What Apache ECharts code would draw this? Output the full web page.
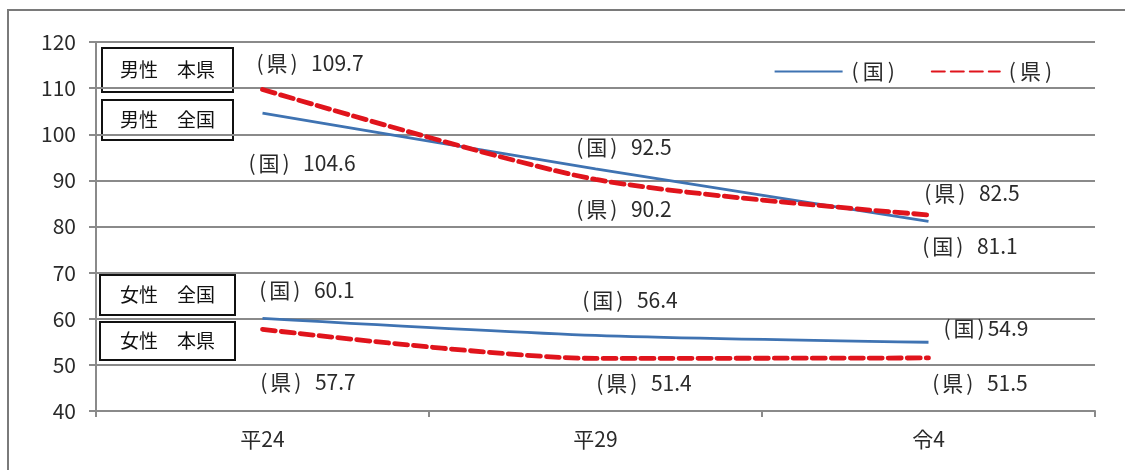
<!DOCTYPE html>
<html>
<head>
<meta charset="utf-8">
<script src="https://cdn.jsdelivr.net/npm/echarts@6/dist/echarts.min.js"></script>
<style>
  html, body { margin: 0; padding: 0; background: #fff; }
  #chart { width: 1125px; height: 470px; }
</style>
</head>
<body>
<div id="chart"></div>
<script>
// 年次
const categories = ['平24', '平29', '令4'];
// 男性（全国・本県）
const maleNational = [104.6, 92.5, 81.1];
const malePref = [109.7, 90.2, 82.5];
// 女性（全国・本県）
const femaleNational = [60.1, 56.4, 54.9];
const femalePref = [57.7, 51.4, 51.5];
// 軸目盛
const yMin = 40, yMax = 120, yStep = 10;

const FONT = '"Noto Sans CJK JP", "Noto Sans", sans-serif';
const BLUE = '#3f73b2';
const RED = '#e0141c';
const TEXT = '#2a2a2a';
const FS = 21;

// 括弧付きの表記：(国) / (県)
const richText = {
  p: { fontSize: FS, fontFamily: FONT, color: TEXT, padding: [0, 3] },
  lp: { fontSize: FS, fontFamily: FONT, color: TEXT, padding: [0, 4] },
  k: { fontSize: FS, fontFamily: FONT, color: TEXT },
  n: { fontSize: FS, fontFamily: FONT, color: TEXT }
};
function tag(kind, p) { p = p || 'p'; return '{' + p + '|(}{k|' + kind + '}{' + p + '|)}'; }

// ラベル位置（点からのずらし量）
const offMaleNat = [[38, 50], [27, -22], [40, 25]];
const offMalePref = [[46, -26], [27, 30], [42, -22]];
const offFemNat = [[43, -28], [33, -35], [56, -14]];
const offFemPref = [[44, 53], [47, 25], [50, 25]];

function items(values, kind, offsets, tight) {
  return values.map((v, i) => ({
    value: v,
    label: {
      show: true,
      position: 'inside',
      align: 'center',
      verticalAlign: 'middle',
      offset: offsets[i],
      formatter: tag(kind) + '{n|' + (tight && i === 2 ? '' : '\u2002') + v.toFixed(1) + '}',
      rich: richText
    }
  }));
}

const natLine = { color: BLUE, width: 2.8 };
const prefLine = { color: RED, width: 4.8, type: [13, 6], cap: 'round' };

function line(name, kind, values, offsets, style, tight) {
  return {
    name: name,
    type: 'line',
    data: items(values, kind, offsets, tight),
    smooth: 0.25,
    showSymbol: true,
    symbol: 'circle',
    symbolSize: 1,
    itemStyle: { color: 'rgba(0,0,0,0)' },
    lineStyle: style,
    emphasis: { disabled: true },
    z: kind === '県' ? 3 : 2
  };
}

function box(x, y, w, h, text) {
  return {
    type: 'group',
    children: [
      { type: 'rect', shape: { x: x, y: y, width: w, height: h },
        style: { fill: '#fff', stroke: '#111', lineWidth: 2 } },
      { type: 'text', x: x + w / 2, y: y + h / 2,
        style: { text: text, fill: '#111', font: '19px ' + FONT, align: 'center', verticalAlign: 'middle' } }
    ],
    z: 10
  };
}

const chart = echarts.init(document.getElementById('chart'), null, { renderer: 'canvas' });
chart.setOption({
  animation: false,
  backgroundColor: '#fff',
  grid: { left: 96, right: 30, top: 42, bottom: 59 },
  legend: {
    right: 68, top: 56,
    itemWidth: 68, itemHeight: 12, itemGap: 36,
    data: ['（国）', '（県）'],
    formatter: function (name) { return name === '（国）' ? tag('国', 'lp') : tag('県', 'lp'); },
    textStyle: { fontSize: FS, color: TEXT, fontFamily: FONT, rich: richText }
  },
  xAxis: {
    type: 'category',
    data: categories,
    boundaryGap: true,
    axisLine: { lineStyle: { color: '#8a8a8a', width: 2 } },
    axisTick: { show: true, length: 6, lineStyle: { color: '#8a8a8a', width: 2 } },
    axisLabel: { color: TEXT, fontSize: FS, fontFamily: FONT, margin: 18 }
  },
  yAxis: {
    type: 'value',
    min: yMin, max: yMax, interval: yStep,
    axisLine: { show: true, lineStyle: { color: '#8a8a8a', width: 2 } },
    axisTick: { show: true, length: 7, lineStyle: { color: '#8a8a8a', width: 2 } },
    splitLine: { lineStyle: { color: '#8a8a8a', width: 2 } },
    axisLabel: { color: TEXT, fontSize: FS, fontFamily: FONT, margin: 20 }
  },
  series: [
    line('（国）', '国', maleNational, offMaleNat, natLine, false),
    line('（県）', '県', malePref, offMalePref, prefLine, false),
    line('（国）', '国', femaleNational, offFemNat, natLine, true),
    line('（県）', '県', femalePref, offFemPref, prefLine, false)
  ],
  graphic: [
    // 外枠
    { type: 'polyline', shape: { points: [[8, 480], [8, 10], [1130, 10]] },
      style: { stroke: '#7a7a7a', lineWidth: 2, fill: null }, z: 0 },
    box(102, 48, 131, 44, '男性\u3000本県'),
    box(102, 100, 131, 40, '男性\u3000全国'),
    box(100, 275, 135, 40, '女性\u3000全国'),
    box(100, 322, 135, 38, '女性\u3000本県')
  ]
});
</script>
</body>
</html>
